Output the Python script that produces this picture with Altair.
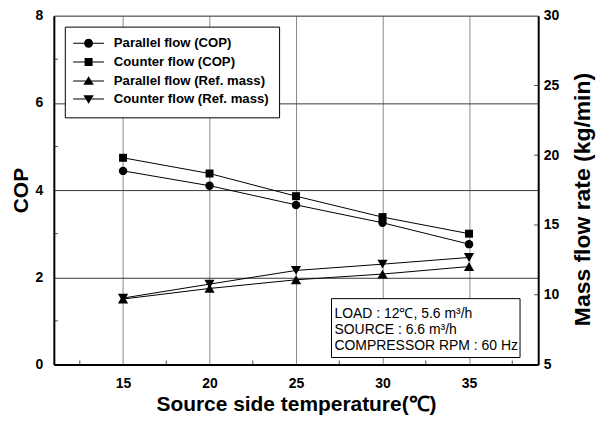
import altair as alt
import pandas as pd

temps = [15, 20, 25, 30, 35]
cop_parallel = [4.44, 4.10, 3.66, 3.25, 2.76]
cop_counter = [4.74, 4.38, 3.86, 3.38, 3.00]
mass_parallel = [9.69, 10.45, 11.07, 11.48, 12.02]
mass_counter = [9.76, 10.76, 11.74, 12.19, 12.67]
series_names = [
    "Parallel flow (COP)",
    "Counter flow (COP)",
    "Parallel flow (Ref. mass)",
    "Counter flow (Ref. mass)",
]
note_lines = ["LOAD : 12\u2103, 5.6 m\u00b3/h", "SOURCE : 6.6 m\u00b3/h", "COMPRESSOR RPM : 60 Hz"]
x_minor_ticks = [12.5, 17.5, 22.5, 27.5, 32.5, 37.5]
cop_minor_ticks = [1, 3, 5, 7]
mass_ticks = [10, 15, 20, 25]

FONT = "Liberation Sans"

cop_df = pd.DataFrame({
    "temp": temps * 2,
    "value": cop_parallel + cop_counter,
    "series": [series_names[0]] * 5 + [series_names[1]] * 5,
})
mass_df = pd.DataFrame({
    "temp": temps * 2,
    "value": mass_parallel + mass_counter,
    "series": [series_names[2]] * 5 + [series_names[3]] * 5,
})

x_scale = alt.Scale(domain=[11, 39], nice=False, zero=False)
cop_scale = alt.Scale(domain=[0, 8], nice=False)
mass_scale = alt.Scale(domain=[5, 30], nice=False, zero=False)

x_axis = alt.Axis(
    title="Source side temperature(\u2103)", values=temps, grid=True,
    gridColor="#8a8a8a", gridWidth=1, ticks=False, tickSize=0,
    labelFont=FONT, labelFontWeight="bold", labelFontSize=14, labelColor="black",
    labelPadding=12, titleFont=FONT, titleFontSize=21, titleFontWeight="bold",
    titleColor="black", titlePadding=3, domainColor="black", domainWidth=2,
)
cop_axis = alt.Axis(
    title="COP", values=[0, 2, 4, 6, 8], grid=True, gridColor="#3a3a3a",
    gridWidth=1, ticks=False, tickSize=0, labelFont=FONT, labelFontWeight="bold",
    labelFontSize=14, labelColor="black", labelPadding=11, titleFont=FONT,
    titleFontSize=21, titleFontWeight="bold", titleColor="black", titlePadding=4,
    domainColor="black", domainWidth=2,
)
mass_axis = alt.Axis(
    title="Mass flow rate (kg/min)", orient="right", values=[5, 10, 15, 20, 25, 30],
    grid=False, ticks=False, tickSize=0, labelFont=FONT, labelFontWeight="bold",
    labelFontSize=14, labelColor="black", labelPadding=5, titleFont=FONT,
    titleFontSize=23, titleFontWeight="bold", titleColor="black", titlePadding=13,
    titleAngle=270, titleBaseline="top", titleY=184,
    domainColor="black", domainWidth=2,
)

X = alt.X("temp:Q", scale=x_scale, axis=x_axis)

cop_lines = alt.Chart(cop_df).mark_line(color="black", strokeWidth=1).encode(
    x=X, y=alt.Y("value:Q", scale=cop_scale, axis=cop_axis), detail="series:N"
)
cop_par_pts = alt.Chart(cop_df).transform_filter(
    alt.datum.series == series_names[0]
).mark_point(shape="circle", filled=True, color="black", size=72, opacity=1).encode(
    x="temp:Q", y="value:Q"
)
cop_cnt_pts = alt.Chart(cop_df).transform_filter(
    alt.datum.series == series_names[1]
).mark_point(shape="square", filled=True, color="black", size=64, opacity=1).encode(
    x="temp:Q", y="value:Q"
)

# legend symbols: a short line with the marker on it (unit = 5 px)
paths = [
    "M-1.65,-0.1H0.6V0.1H-1.65Z M2.3,-0.1H4.55V0.1H2.3Z "
    "M2.35,0A0.9,0.9,0,1,1,0.55,0A0.9,0.9,0,1,1,2.35,0Z",
    "M-1.65,-0.1H0.65V0.1H-1.65Z M2.25,-0.1H4.55V0.1H2.25Z "
    "M0.65,-0.8H2.25V0.8H0.65Z",
    "M-1.65,-0.1H0.9V0.1H-1.65Z M2.0,-0.1H4.55V0.1H2.0Z "
    "M1.45,-0.95L2.5,0.75H0.4Z",
    "M-1.65,-0.1H0.9V0.1H-1.65Z M2.0,-0.1H4.55V0.1H2.0Z "
    "M1.45,0.95L2.5,-0.75H0.4Z",
]
legend_layer = alt.Chart(cop_df).transform_filter("datum.temp < 0").mark_point(
    filled=True, fill="black", opacity=1, size=100
).encode(
    x="temp:Q", y="value:Q",
    shape=alt.Shape(
        "series:N",
        scale=alt.Scale(domain=series_names, range=paths),
        legend=alt.Legend(
            title=None, orient="none", legendX=11, legendY=11,
            fillColor="white", strokeColor="black", padding=10,
            labelFont=FONT, labelFontSize=13.2, labelFontWeight="bold",
            labelColor="black", labelOffset=26, rowPadding=3,
            symbolSize=100, symbolFillColor="black",
        ),
    ),
)

x_tick_df = pd.DataFrame({"t": x_minor_ticks})
x_ticks = alt.Chart(x_tick_df).mark_tick(color="black", thickness=1, size=4).encode(
    x="t:Q", y=alt.value(348)
)
cop_tick_df = pd.DataFrame({"v": cop_minor_ticks})
cop_ticks = alt.Chart(cop_tick_df).mark_tick(color="black", thickness=1, size=4).encode(
    y="v:Q", x=alt.value(2)
)

note_df = pd.DataFrame({"x0": [27.05], "x1": [37.95], "y0": [0.16], "y1": [1.51]})
note_box = alt.Chart(note_df).mark_rect(fill="white", stroke="black", strokeWidth=1).encode(
    x="x0:Q", x2="x1:Q", y="y0:Q", y2="y1:Q"
)
note_text_df = pd.DataFrame({"t": note_lines, "x": [27.22] * 3, "y": [1.07, 0.70, 0.33]})
note_text = alt.Chart(note_text_df).mark_text(
    align="left", baseline="alphabetic", font=FONT, fontSize=14, color="black"
).encode(x="x:Q", y="y:Q", text="t:N")

left = alt.layer(cop_lines, x_ticks, cop_ticks, note_box, note_text,
                 cop_par_pts, cop_cnt_pts, legend_layer)

mass_lines = alt.Chart(mass_df).mark_line(color="black", strokeWidth=1).encode(
    x="temp:Q", y=alt.Y("value:Q", scale=mass_scale, axis=mass_axis), detail="series:N"
)
mass_par_pts = alt.Chart(mass_df).transform_filter(
    alt.datum.series == series_names[2]
).mark_point(shape="triangle-up", filled=True, color="black", size=105, opacity=1).encode(
    x="temp:Q", y="value:Q"
)
mass_cnt_pts = alt.Chart(mass_df).transform_filter(
    alt.datum.series == series_names[3]
).mark_point(shape="triangle-down", filled=True, color="black", size=105, opacity=1).encode(
    x="temp:Q", y="value:Q"
)
mass_tick_df = pd.DataFrame({"v": mass_ticks})
mass_tick_marks = alt.Chart(mass_tick_df).mark_tick(color="black", thickness=1, size=4).encode(
    y="v:Q", x=alt.value(484)
)
right = alt.layer(mass_lines, mass_tick_marks, mass_par_pts, mass_cnt_pts)

chart = alt.layer(left, right).resolve_scale(y="independent").properties(
    width=486, height=350,
    autosize=alt.AutoSizeParams(type="none"),
    padding={"left": 46, "top": 7, "right": 60, "bottom": 50},
).configure_view(stroke="black", strokeWidth=1).configure(background="white")

chart.save("out.html", embed_options={"renderer": "svg", "actions": False})
